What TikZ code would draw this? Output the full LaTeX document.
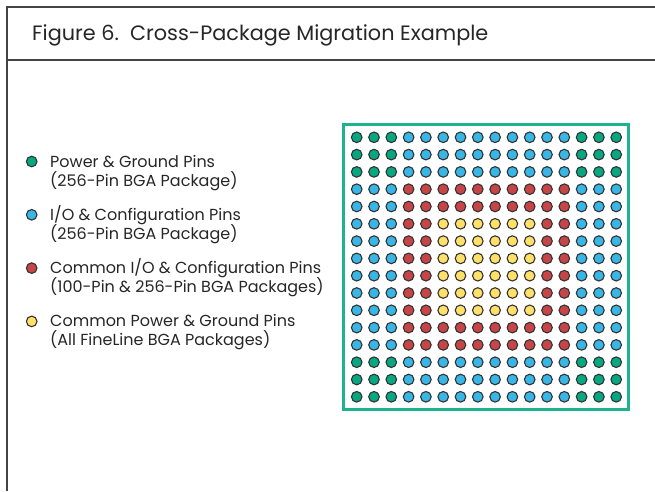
\documentclass[tikz,border=0pt]{standalone}
\usepackage{fontspec}
\setmainfont{Poppins}
\definecolor{pgreen}{HTML}{05A880}
\definecolor{pblue}{HTML}{38B6E6}
\definecolor{pred}{HTML}{C74547}
\definecolor{pyellow}{HTML}{FFE068}
\definecolor{framegreen}{HTML}{1DB38E}
\definecolor{rule}{HTML}{444444}
\tikzset{
  pin/.style={circle, draw=black!80, line width=1.1pt, minimum size=10.6pt, inner sep=0pt},
  legtext/.style={anchor=base west, inner sep=0pt, font=\fontsize{16}{19}\selectfont, text=black!85},
  titletext/.style={anchor=base west, inner sep=0pt, font=\fontsize{20.8}{24}\selectfont, text=black!85}
}
\begin{document}
\begin{tikzpicture}[x=1pt,y=-1pt]
\useasboundingbox (0,0) rectangle (655,491);
% outer frame
\draw[rule, line width=1.6pt] (7,491) -- (7,7) -- (655,7);
\draw[rule, line width=1.6pt] (7,60) -- (655,60);
\node[titletext] (title) at (32,40.5) {Figure 6.\ \ Cross-Package Migration Example};
% legend
\foreach \k/\c/\la/\lb in {
  0/pgreen/{Power \& Ground Pins}/{(256-Pin BGA Package)},
  1/pblue/{I/O \& Configuration Pins}/{(256-Pin BGA Package)},
  2/pred/{Common I/O \& Configuration Pins}/{(100-Pin \& 256-Pin BGA Packages)},
  3/pyellow/{Common Power \& Ground Pins}/{(All FineLine BGA Packages)}}{
  \node[pin, fill=\c] (l\k) at (31.7,{161.5+53.3*\k}) {};
  \node[legtext] (t\k a) at (50,{167+53.3*\k}) {\la};
  \node[legtext] (t\k b) at (50,{186+53.3*\k}) {\lb};
}
% package frame
\draw[framegreen, line width=3pt] (343.5,124) rectangle (628.5,409.5);
% pins
\foreach \i in {0,...,15}{
  \foreach \j in {0,...,15}{
    \pgfmathtruncatemacro{\di}{min(\i,15-\i)}
    \pgfmathtruncatemacro{\dj}{min(\j,15-\j)}
    \pgfmathtruncatemacro{\d}{min(\di,\dj)}
    \ifnum\di<3 \ifnum\dj<3 \def\c{pgreen}\else\def\c{pblue}\fi
    \else\ifnum\dj<3 \def\c{pblue}
    \else\ifnum\d<5 \def\c{pred}\else\def\c{pyellow}\fi\fi\fi
    \node[pin, fill=\c] (p-\i-\j) at ({356.7+17.3*\i},{137.3+17.3*\j}) {};
  }
}
\end{tikzpicture}
\end{document}
